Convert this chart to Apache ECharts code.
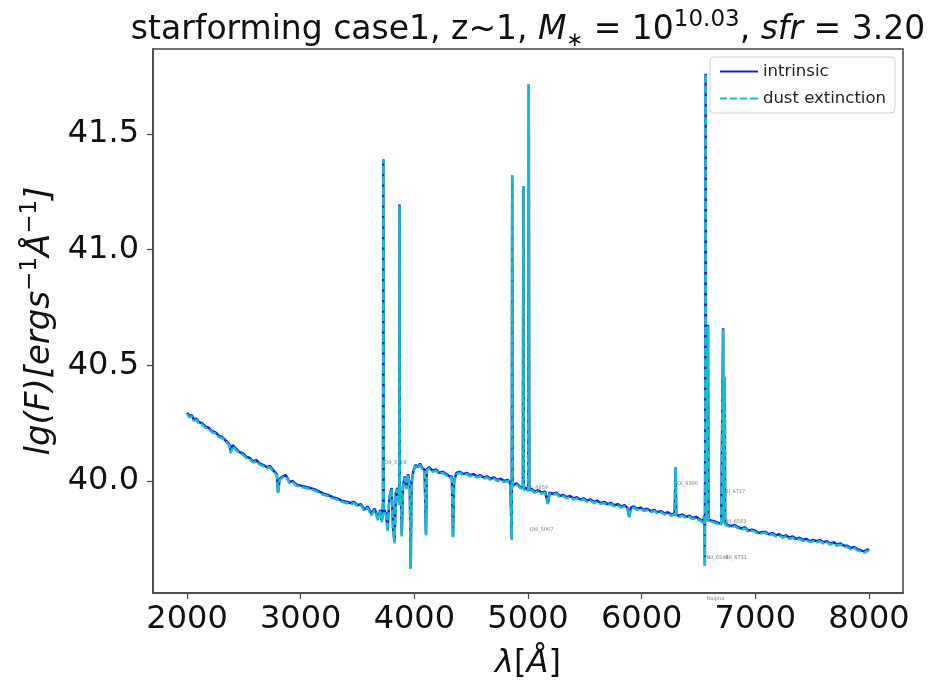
<!DOCTYPE html>
<html>
<head>
<meta charset="utf-8">
<script src="https://cdn.jsdelivr.net/npm/echarts@6/dist/echarts.min.js"></script>
<style>html,body{margin:0;padding:0;background:#fff}#c{width:930px;height:685px}</style>
</head>
<body>
<div id="c"></div>
<script>
// wavelength grid (Angstrom)
var lam = [2000,2020,2040,2060,2080,2100,2130,2160,2190,2220,2250,2280,2310,2340,2370,2385,2400,2430,2460,2490,2520,2550,2580,2610,2640,2670,2700,2730,2760,2790,2800,2815,2840,2870,2900,2930,2960,3000,3040,3080,3120,3160,3200,3240,3280,3320,3360,3400,3440,3470,3500,3530,3560,3590,3620,3650,3680,3700,3715,3724,3727,3730,3750,3765,3780,3800,3812,3825,3838,3850,3862,3867,3869,3872,3880,3889,3900,3915,3930,3945,3960,3968,3975,3990,4010,4030,4050,4070,4090,4102,4110,4130,4160,4190,4220,4250,4280,4310,4330,4340,4350,4370,4400,4430,4460,4490,4520,4550,4580,4610,4640,4670,4700,4730,4760,4790,4820,4845,4857,4861,4865,4880,4900,4930,4955,4959,4963,4985,5003,5007,5011,5030,5060,5090,5120,5150,5175,5190,5220,5250,5280,5310,5340,5370,5400,5430,5460,5490,5520,5550,5580,5610,5640,5670,5700,5730,5760,5790,5820,5850,5875,5890,5905,5930,5960,5990,6020,6050,6080,6110,6140,6170,6200,6230,6260,6290,6296,6300,6304,6330,6360,6390,6420,6450,6480,6510,6540,6552,6556,6560,6563,6566,6570,6580,6584,6588,6610,6640,6670,6700,6713,6717,6721,6727,6731,6735,6760,6790,6820,6850,6880,6910,6940,6970,7000,7030,7060,7090,7120,7150,7180,7210,7240,7270,7300,7330,7360,7390,7420,7450,7480,7510,7540,7570,7600,7630,7660,7690,7720,7750,7780,7810,7840,7870,7900,7930,7960,7990,8000];
// lg(F) intrinsic
var intrinsic = [40.295,40.28,40.285,40.265,40.27,40.255,40.25,40.235,40.23,40.215,40.21,40.195,40.19,40.175,40.16,40.13,40.155,40.14,40.125,40.12,40.105,40.1,40.085,40.09,40.075,40.07,40.06,40.065,40.045,40.03,39.95,40.01,40.02,40.025,39.995,40.0,39.985,39.98,39.975,39.97,39.965,39.955,39.945,39.94,39.93,39.925,39.915,39.91,39.905,39.91,39.895,39.9,39.875,39.89,39.86,39.88,39.84,39.875,39.83,39.9,41.39,39.88,39.86,39.79,39.93,39.97,39.8,39.74,39.95,39.97,39.92,39.9,41.195,39.9,39.96,39.77,39.98,40.02,39.97,40.03,39.98,39.62,39.99,40.04,40.07,40.06,40.075,40.055,40.05,39.77,40.05,40.06,40.045,40.05,40.035,40.04,40.03,40.02,40.02,39.76,40.0,40.035,40.04,40.03,40.035,40.025,40.03,40.02,40.025,40.015,40.02,40.01,40.015,40.005,40.01,40.0,40.005,39.99,39.75,41.32,39.98,39.975,39.99,39.975,39.97,41.275,39.965,39.97,39.96,41.715,39.96,39.965,39.955,39.96,39.95,39.955,39.905,39.95,39.945,39.95,39.935,39.94,39.93,39.935,39.925,39.93,39.92,39.925,39.915,39.92,39.91,39.915,39.905,39.91,39.9,39.905,39.895,39.9,39.89,39.895,39.885,39.845,39.885,39.89,39.88,39.885,39.875,39.88,39.87,39.875,39.865,39.87,39.86,39.865,39.855,39.86,39.855,40.06,39.855,39.85,39.855,39.845,39.85,39.84,39.845,39.835,39.825,39.85,39.635,40.2,41.76,40.3,39.83,39.835,40.675,39.83,39.83,39.825,39.82,39.815,39.82,40.66,39.82,39.815,40.45,39.815,39.81,39.805,39.81,39.8,39.795,39.8,39.785,39.79,39.785,39.775,39.78,39.78,39.77,39.775,39.765,39.77,39.76,39.765,39.755,39.76,39.75,39.755,39.745,39.75,39.74,39.745,39.74,39.745,39.735,39.74,39.73,39.735,39.725,39.73,39.72,39.72,39.71,39.715,39.705,39.7,39.695,39.705,39.7];
// lg(F) with dust extinction
var dust = [40.29,40.275,40.28,40.26,40.265,40.25,40.245,40.23,40.225,40.21,40.205,40.19,40.185,40.17,40.155,40.12,40.15,40.135,40.12,40.115,40.1,40.095,40.08,40.085,40.07,40.065,40.055,40.06,40.04,40.025,39.95,40.005,40.015,40.02,39.99,39.995,39.98,39.975,39.97,39.965,39.96,39.95,39.94,39.935,39.925,39.92,39.91,39.905,39.9,39.905,39.89,39.895,39.87,39.885,39.85,39.875,39.83,39.87,39.82,39.895,41.39,39.875,39.85,39.78,39.925,39.965,39.79,39.73,39.945,39.965,39.915,39.895,41.19,39.895,39.955,39.76,39.975,40.015,39.965,40.025,39.975,39.62,39.985,40.035,40.065,40.055,40.07,40.05,40.045,39.765,40.045,40.055,40.04,40.045,40.03,40.035,40.025,40.015,40.015,39.755,39.995,40.03,40.035,40.025,40.03,40.02,40.025,40.015,40.02,40.01,40.015,40.005,40.01,40.0,40.005,39.995,40.0,39.985,39.745,41.32,39.975,39.97,39.985,39.97,39.965,41.275,39.96,39.965,39.955,41.715,39.955,39.96,39.95,39.955,39.945,39.95,39.9,39.945,39.94,39.945,39.93,39.935,39.925,39.93,39.92,39.925,39.915,39.92,39.91,39.915,39.905,39.91,39.9,39.905,39.895,39.9,39.89,39.895,39.885,39.89,39.88,39.84,39.88,39.885,39.875,39.88,39.87,39.875,39.865,39.87,39.86,39.865,39.855,39.86,39.85,39.855,39.85,40.06,39.85,39.845,39.85,39.84,39.845,39.835,39.84,39.83,39.82,39.845,39.63,40.2,41.76,40.3,39.825,39.83,40.67,39.825,39.825,39.82,39.815,39.81,39.815,40.655,39.815,39.81,40.45,39.81,39.805,39.8,39.805,39.795,39.79,39.795,39.78,39.785,39.78,39.77,39.775,39.775,39.765,39.77,39.76,39.765,39.755,39.76,39.75,39.755,39.745,39.75,39.74,39.745,39.735,39.74,39.735,39.74,39.73,39.735,39.725,39.73,39.72,39.725,39.715,39.715,39.705,39.71,39.7,39.695,39.69,39.7,39.695];
// tick values
var xTicks = [2000,3000,4000,5000,6000,7000,8000];
var yTicks = [40.0,40.5,41.0,41.5];
// emission-line annotation labels
var lineNames = ['OII_3729','OIII_5007','OIII_4959','OI_6300','SII_6717','NII_6583','NII_6548','SII_6731','Halpha'];
var lineLam = [3727,5007,4960,6305,6715,6720,6563,6730,6563];
var lineVal = [40.078,39.79,39.97,39.99,39.952,39.823,39.667,39.667,39.49];

var font = 'DejaVu Sans';
var chart = echarts.init(document.getElementById('c'), null, {renderer: 'canvas'});

function zip(a, b) { return a.map(function (v, i) { return [v, b[i]]; }); }

var solidIcon = 'path://M0,0h38v2.2h-38z';
var dashIcon = 'path://M0,0h7v2.2h-7z M10,0h7v2.2h-7z M20,0h7v2.2h-7z M30,0h8v2.2h-8z';

chart.setOption({
  animation: false,
  backgroundColor: '#fff',
  textStyle: {fontFamily: font},
  title: {
    left: 523, top: 4, textAlign: 'center',
    text: '{n|starforming case1, z~1, }{i|M}{sub|∗}{n| = 10}{sup|10.03}{n|, }{i|sfr}{n| = 3.20}',
    textStyle: {
      fontWeight: 'normal',
      rich: {
        n: {fontFamily: font, fontSize: 33, fontWeight: 'normal', color: '#111', lineHeight: 42},
        i: {fontFamily: font, fontSize: 33, fontWeight: 'normal', color: '#111', fontStyle: 'italic', lineHeight: 42},
        sup: {fontFamily: font, fontSize: 23, fontWeight: 'normal', color: '#111', verticalAlign: 'top', lineHeight: 22},
        sub: {fontFamily: font, fontSize: 20, fontWeight: 'normal', color: '#111', fontStyle: 'italic', verticalAlign: 'bottom', lineHeight: 30}
      }
    }
  },
  grid: {left: 153, right: 27, top: 49, bottom: 92, show: true, borderColor: '#444', borderWidth: 1.5, backgroundColor: 'transparent'},
  legend: {
    data: [{name: 'intrinsic', icon: solidIcon}, {name: 'dust extinction', icon: dashIcon}],
    orient: 'vertical', right: 35, top: 57,
    padding: [5, 9, 5, 10],
    itemWidth: 38, itemHeight: 2.2, itemGap: 8,
    backgroundColor: 'rgba(255,255,255,0.85)',
    borderColor: '#d0d0d0', borderWidth: 1, borderRadius: 4,
    textStyle: {fontFamily: font, fontSize: 16.5, color: '#222', lineHeight: 19}
  },
  xAxis: {
    type: 'value', min: 1700, max: 8300,
    name: '{i|λ}{n|[}{i|Å}{n|]}', nameLocation: 'middle', nameGap: 55,
    nameTextStyle: {rich: {
      i: {fontFamily: font, fontSize: 32, fontStyle: 'italic', color: '#111'},
      n: {fontFamily: font, fontSize: 32, color: '#111'}
    }},
    axisLine: {show: true, lineStyle: {color: '#444', width: 1.5}},
    axisTick: {show: true, length: 6, customValues: xTicks, lineStyle: {color: '#444', width: 1.2}},
    axisLabel: {customValues: xTicks, fontFamily: font, fontSize: 32, color: '#111', margin: 11,
      formatter: function (v) { return String(v); }},
    splitLine: {show: false}
  },
  yAxis: {
    type: 'value', min: 39.516, max: 41.867,
    name: '{i|lg(F)[ergs}{s|−1}{i|Å}{s|−1}{i|]}', nameLocation: 'middle', nameRotate: 90, nameGap: 84,
    nameTextStyle: {rich: {
      i: {fontFamily: font, fontSize: 34, fontStyle: 'italic', color: '#111', lineHeight: 42},
      s: {fontFamily: font, fontSize: 23, color: '#111', verticalAlign: 'top', lineHeight: 22}
    }},
    axisLine: {show: true, lineStyle: {color: '#444', width: 1.5}},
    axisTick: {show: true, length: 6, customValues: yTicks, lineStyle: {color: '#444', width: 1.2}},
    axisLabel: {customValues: yTicks, fontFamily: font, fontSize: 32, color: '#111', margin: 14,
      formatter: function (v) { return v.toFixed(1); }},
    splitLine: {show: false}
  },
  series: [
    {
      name: 'intrinsic', type: 'line', data: zip(lam, intrinsic),
      showSymbol: false, symbol: 'none',
      color: '#1c1cdc',
      lineStyle: {color: '#1c1cdc', width: 2.5}
    },
    {
      name: 'dust extinction', type: 'line', data: zip(lam, dust),
      showSymbol: false, symbol: 'none',
      color: '#19bccb',
      lineStyle: {color: '#19bccb', width: 2.5, type: [8, 2.5]}
    },
    {
      name: 'labels', type: 'scatter', symbolSize: 0, clip: false, silent: true,
      data: lineLam.map(function (l, i) { return {value: [l, lineVal[i]], name: lineNames[i]}; }),
      label: {show: true, position: 'right', distance: 1, formatter: '{b}', fontSize: 5, color: '#555', fontFamily: font}
    }
  ]
});
</script>
</body>
</html>
